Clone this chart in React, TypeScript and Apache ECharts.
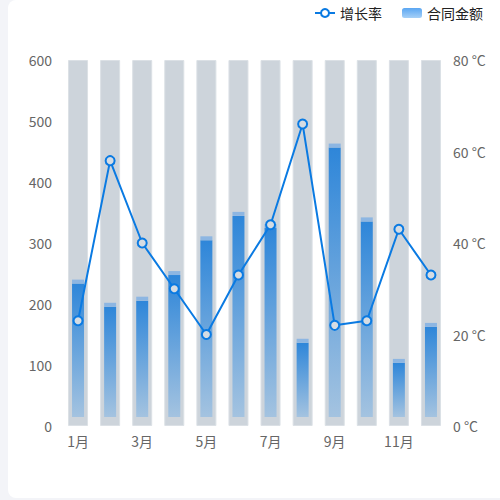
import React, { useEffect, useRef } from 'react';
import * as echarts from 'echarts';

const months = ['1月', '2月', '3月', '4月', '5月', '6月', '7月', '8月', '9月', '10月', '11月', '12月'];
// 合同金额 (top of each bar, cap included)
const amounts = [240, 202, 212, 254, 311, 351, 331, 143, 463, 342, 110, 169];
// 增长率 (°C on the right axis)
const rates = [23, 58, 40, 30, 20, 33, 44, 66, 22, 23, 43, 33];
const trackMax = [600, 600, 600, 600, 600, 600, 600, 600, 600, 600, 600, 600];

const FONT = '"Noto Sans CJK SC", "Noto Sans", sans-serif';

const App: React.FC = () => {
  const chartRef = useRef<HTMLDivElement>(null);

  useEffect(() => {
    if (!chartRef.current) return;
    const chart = echarts.init(chartRef.current, undefined, { renderer: 'svg' });

    const barFill = () =>
      new echarts.graphic.LinearGradient(0, 0, 0, 1, [
        { offset: 0, color: '#2e86d9' },
        { offset: 1, color: '#a4c3e0' }
      ]);

    const option: echarts.EChartsOption = {
      animation: false,
      textStyle: { fontFamily: FONT },
      legend: {
        top: 1,
        right: 12,
        itemWidth: 20,
        itemHeight: 10,
        itemGap: 20,
        textStyle: { fontSize: 14, color: '#222' },
        data: [
          { name: '增长率', itemStyle: { color: '#fff', borderColor: '#0a7ae2', borderWidth: 2 } },
          {
            name: '合同金额',
            icon: 'roundRect',
            itemStyle: {
              color: new echarts.graphic.LinearGradient(0, 0, 0, 1, [
                { offset: 0, color: '#5aa6f2' },
                { offset: 1, color: '#a6d0f7' }
              ])
            }
          }
        ]
      },
      grid: { left: 54, right: 53, top: 60, bottom: 72 },
      xAxis: {
        type: 'category',
        data: months,
        axisLine: { show: false },
        axisTick: { show: false },
        axisLabel: { interval: 1, color: '#666', fontSize: 14, margin: 8 }
      },
      yAxis: [
        {
          type: 'value',
          min: 0,
          max: 600,
          interval: 100,
          splitLine: { show: false },
          axisLine: { show: false },
          axisLabel: { color: '#666', fontSize: 14, margin: 10 }
        },
        {
          type: 'value',
          min: 0,
          max: 80,
          interval: 20,
          splitLine: { show: false },
          axisLine: { show: false },
          axisLabel: { color: '#666', fontSize: 14, margin: 6, formatter: '{value} °C' }
        }
      ],
      series: [
        {
          name: 'track',
          type: 'bar',
          data: trackMax,
          barWidth: 20,
          silent: true,
          itemStyle: { color: '#cdd4db', borderColor: '#dbe0e5', borderWidth: 1 },
          z: 1
        },
        {
          name: '合同金额',
          type: 'custom',
          data: amounts.map((v, i) => [i, v]),
          z: 2,
          renderItem: (params: any, api: any) => {
            const top = api.coord([api.value(0), api.value(1)]);
            const base = api.coord([api.value(0), 0]);
            const w = 12;
            const cap = 4;
            return {
              type: 'group',
              children: [
                {
                  type: 'rect',
                  shape: { x: top[0] - w / 2, y: top[1] + cap, width: w, height: base[1] - 9 - (top[1] + cap) },
                  style: { fill: barFill() }
                },
                {
                  type: 'rect',
                  shape: { x: top[0] - w / 2, y: top[1], width: w, height: cap },
                  style: { fill: '#8db6e2' }
                }
              ]
            };
          }
        },
        {
          name: '增长率',
          type: 'line',
          yAxisIndex: 1,
          data: rates,
          symbol: 'circle',
          symbolSize: 9,
          z: 3,
          lineStyle: { color: '#0a7ae2', width: 2 },
          itemStyle: { color: '#d5dce3', borderColor: '#0a7ae2', borderWidth: 2 }
        }
      ]
    };

    chart.setOption(option);
    return () => chart.dispose();
  }, []);

  return (
    <div style={{ position: 'fixed', inset: 0, background: '#f3f4f8' }}>
      <div
        style={{
          position: 'absolute',
          left: 8,
          top: 0,
          width: 510,
          height: 498,
          background: '#fff',
          borderRadius: 8
        }}
      >
        <div ref={chartRef} style={{ width: 492, height: 498 }} />
      </div>
    </div>
  );
};

export default App;
